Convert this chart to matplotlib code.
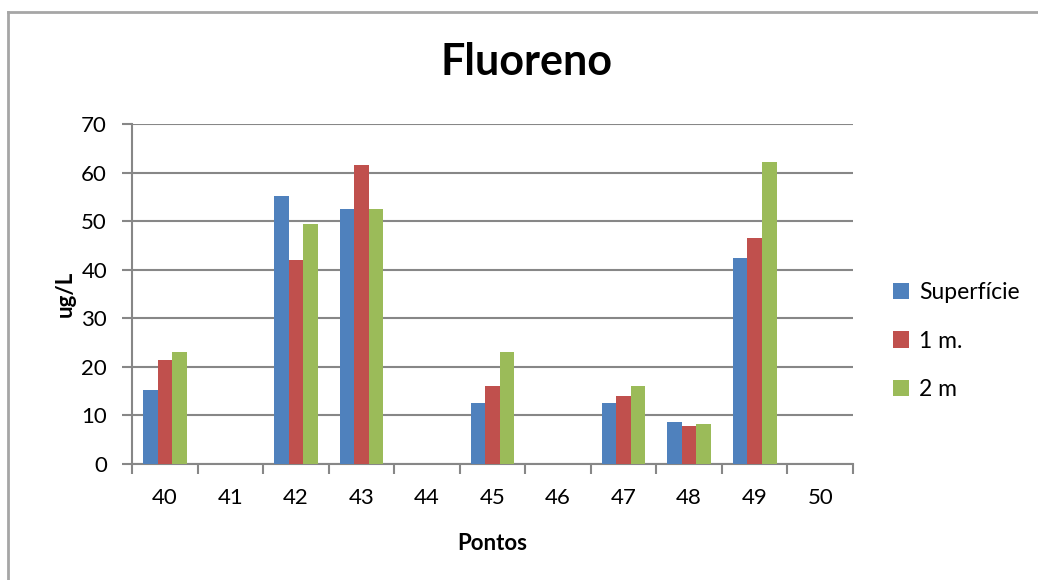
import numpy as np
import matplotlib
matplotlib.use('Agg')
import matplotlib.pyplot as plt
from matplotlib.patches import Patch
from matplotlib.lines import Line2D

plt.rcParams['font.family'] = ['Lato', 'DejaVu Sans']

# Fluoreno concentrations (ug/L) per sampling point and depth
pontos = ['40', '41', '42', '43', '44', '45', '46', '47', '48', '49', '50']
superficie = [15.2, 0, 55.2, 52.4, 0, 12.5, 0, 12.5, 8.7, 42.5, 0]
um_metro = [21.4, 0, 42.0, 61.6, 0, 16.1, 0, 14.1, 7.9, 46.6, 0]
dois_metros = [23.1, 0, 49.5, 52.4, 0, 23.1, 0, 16.1, 8.2, 62.2, 0]

series = [('Superfície', superficie, '#4F81BD'),
          ('1 m.', um_metro, '#C0504D'),
          ('2 m', dois_metros, '#9BBB59')]

fig = plt.figure(figsize=(10.38, 5.8), dpi=100)
ax = fig.add_axes([0.1272, 0.2, 0.6946, 0.5862])

x = np.arange(len(pontos))
w = 0.222
for i, (name, vals, color) in enumerate(series):
    ax.bar(x + (i - 1) * w, vals, width=w, color=color, label=name, zorder=3)

grid = '#878787'
ax.set_xlim(-0.5, len(pontos) - 0.5)
ax.set_ylim(0, 70)
ax.set_yticks(range(0, 71, 10))
ax.yaxis.grid(True, color=grid, linewidth=1.5, zorder=0)
ax.set_xticks(x)
ax.set_xticklabels(pontos)
ax.set_xticks(np.arange(-0.5, len(pontos)), minor=True)
ax.tick_params(axis='x', which='major', length=0, pad=17, labelsize=16)
ax.tick_params(axis='x', which='minor', length=7, width=1.5, color=grid)
ax.tick_params(axis='y', length=7, width=1.5, color=grid, pad=11, labelsize=16)
for s in ['top', 'right']:
    ax.spines[s].set_visible(False)
for s in ['left', 'bottom']:
    ax.spines[s].set_color(grid)
    ax.spines[s].set_linewidth(1.5)

fig.text(526 / 1038, 1 - 62 / 580, 'Fluoreno', fontsize=31, fontweight='bold',
         ha='center', va='center')
ax.set_xlabel('Pontos', fontsize=16, fontweight='bold', labelpad=18)
ax.set_ylabel('ug/L', fontsize=16, fontweight='bold', labelpad=4)

handles = [Patch(facecolor=c, edgecolor='none') for _, _, c in series]
fig.legend(handles, [n for n, _, _ in series], loc='center left',
           bbox_to_anchor=(0.84, 0.412), frameon=False, fontsize=16.5,
           handlelength=0.7, handleheight=0.7, handletextpad=0.45,
           labelspacing=1.22)

# chart area border
fig.add_artist(Line2D([0.008, 0.008], [0, 0.979], color='#a6a6a6', lw=2,
                      transform=fig.transFigure))
fig.add_artist(Line2D([0.008, 1.0], [0.979, 0.979], color='#a6a6a6', lw=2,
                      transform=fig.transFigure))

fig.savefig('out.png', dpi=100)
